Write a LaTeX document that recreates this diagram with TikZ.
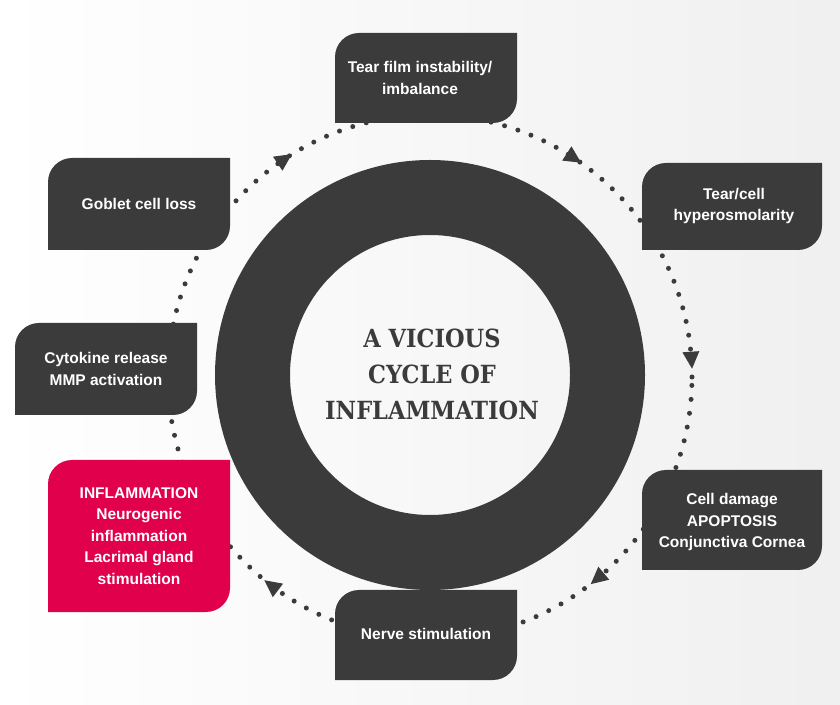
\documentclass[tikz,border=0pt]{standalone}
\usepackage{fontspec}
\setmainfont{Liberation Sans}
\newfontfamily\titlefont{DejaVu Serif Condensed}
\definecolor{boxgray}{HTML}{3B3B3B}
\definecolor{boxred}{HTML}{E0004B}
\begin{document}
\begin{tikzpicture}[x=1pt,y=1pt,
  boxtext/.style={text=white,align=center,font=\bfseries\fontsize{15.5}{21.5}\selectfont},
  dots/.style={draw=boxgray,line width=5pt,line cap=round,dash pattern=on 0pt off 14pt}]
\newcommand{\leaf}[5]{\fill[#5] (#1,#2) -- (#1,#4-24) arc[start angle=180,end angle=90,radius=24] -- (#3,#4) -- (#3,#2+24) arc[start angle=0,end angle=-90,radius=24] -- cycle;}
\shade[left color=white,right color=gray!12] (0,0) rectangle (840,704);
\useasboundingbox (0,0) rectangle (840,704);
% dotted cycle
\draw[dots] (430,327) circle[radius=262];
% ring
\fill[boxgray,even odd rule] (430,329) circle[radius=215] (430,329) circle[radius=140];
\node[text=boxgray,align=center,font=\titlefont\bfseries\fontsize{25}{36}\selectfont] (title) at (432,330) {A VICIOUS\\CYCLE OF\\INFLAMMATION};
% arrowheads
\foreach \a in {124,57,4,-50,-127}
  \fill[boxgray,shift={(430,327)},shift={(\a:262)},rotate=\a-90] (10,0) -- (-7,8.5) -- (-7,-8.5) -- cycle;
% boxes
\leaf{335}{581}{517}{671}{boxgray}
\node[boxtext] (tear) at (420,626) {Tear film instability/\\imbalance};
\leaf{642}{454}{822}{541}{boxgray}
\node[boxtext] (hyper) at (734,498) {Tear/cell\\hyperosmolarity};
\leaf{48}{454}{230}{546}{boxgray}
\node[boxtext] (goblet) at (139,500) {Goblet cell loss};
\leaf{15}{289}{197}{381}{boxgray}
\node[boxtext] (cyto) at (106,335) {Cytokine release\\MMP activation};
\leaf{48}{92}{230}{244}{boxred}
\node[boxtext] (infl) at (139,168) {INFLAMMATION\\Neurogenic\\inflammation\\Lacrimal gland\\stimulation};
\leaf{642}{134}{822}{234}{boxgray}
\node[boxtext] (cell) at (732,182) {Cell damage\\APOPTOSIS\\Conjunctiva Cornea};
\leaf{335}{24}{517}{114}{boxgray}
\node[boxtext] (nerve) at (426,70) {Nerve stimulation};
\end{tikzpicture}
\end{document}
